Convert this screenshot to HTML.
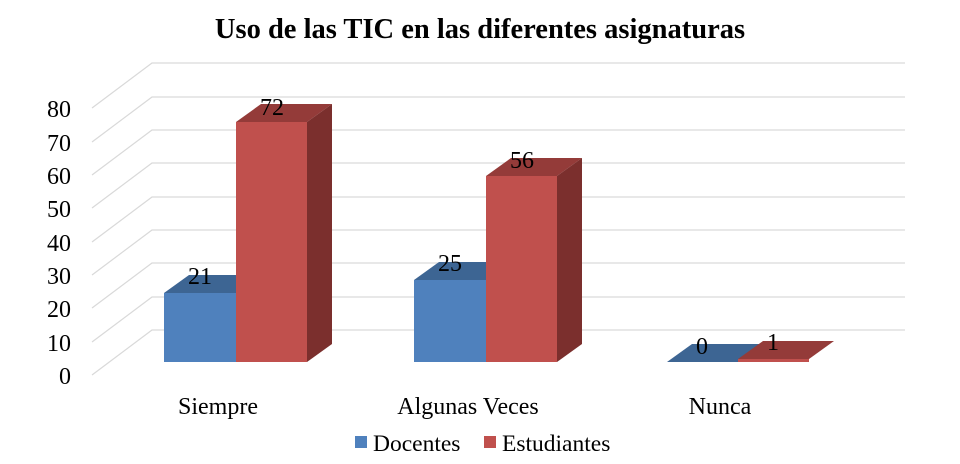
<!DOCTYPE html>
<html><head><meta charset="utf-8"><style>html,body{margin:0;padding:0;background:#fff}svg{display:block}text{font-family:"Liberation Serif",serif}</style></head>
<body>
<svg width="960" height="464" viewBox="0 0 960 464" xmlns="http://www.w3.org/2000/svg">
<rect width="960" height="464" fill="#fff"/>
<text x="480" y="38" font-size="28.5" font-weight="bold" text-anchor="middle">Uso de las TIC en las diferentes asignaturas</text>
<g stroke="#d9d9d9" stroke-width="1.2" fill="none">
<path d="M92 375L152 330H905"/><path d="M92 342L152 297H905"/><path d="M92 308L152 263H905"/><path d="M92 275L152 230H905"/><path d="M92 242L152 197H905"/><path d="M92 208L152 163H905"/><path d="M92 175L152 130H905"/><path d="M92 142L152 97H905"/><path d="M92 108L152 63H905"/>
</g>
<g font-size="24" text-anchor="end">
<text x="71" y="384">0</text><text x="71" y="351">10</text><text x="71" y="317">20</text><text x="71" y="284">30</text><text x="71" y="251">40</text><text x="71" y="217">50</text><text x="71" y="184">60</text><text x="71" y="151">70</text><text x="71" y="117">80</text>
</g>
<polygon points="164,293 189,275 261,275 236,293" fill="#3D6593"/>
<rect x="164" y="293" width="72" height="69" fill="#4F81BD"/>
<polygon points="236,122 261,104 332,104 307,122" fill="#943B39"/>
<polygon points="307,122 332,104 332,344 307,362" fill="#7B2F2D"/>
<rect x="236" y="122" width="71" height="240" fill="#C0504D"/>
<polygon points="414,280 439,262 511,262 486,280" fill="#3D6593"/>
<rect x="414" y="280" width="72" height="82" fill="#4F81BD"/>
<polygon points="486,176 511,158 582,158 557,176" fill="#943B39"/>
<polygon points="557,176 582,158 582,344 557,362" fill="#7B2F2D"/>
<rect x="486" y="176" width="71" height="186" fill="#C0504D"/>
<polygon points="667,362 692,344 763,344 738,362" fill="#3D6593"/>
<polygon points="738,359 763,341 834,341 809,359" fill="#943B39"/>
<rect x="738" y="359" width="71" height="3" fill="#C0504D"/>
<g font-size="24" text-anchor="middle">
<text x="200" y="284">21</text><text x="272" y="115">72</text>
<text x="450" y="271">25</text><text x="522" y="168">56</text>
<text x="702" y="354">0</text><text x="773" y="350">1</text>
<text x="218" y="414">Siempre</text><text x="468" y="414">Algunas Veces</text><text x="720" y="414">Nunca</text>
</g>
<rect x="355" y="436" width="12" height="12" fill="#4F81BD"/>
<text x="373" y="451" font-size="23.5">Docentes</text>
<rect x="484" y="436" width="12" height="12" fill="#C0504D"/>
<text x="502" y="451" font-size="23.5">Estudiantes</text>
</svg>
</body></html>
